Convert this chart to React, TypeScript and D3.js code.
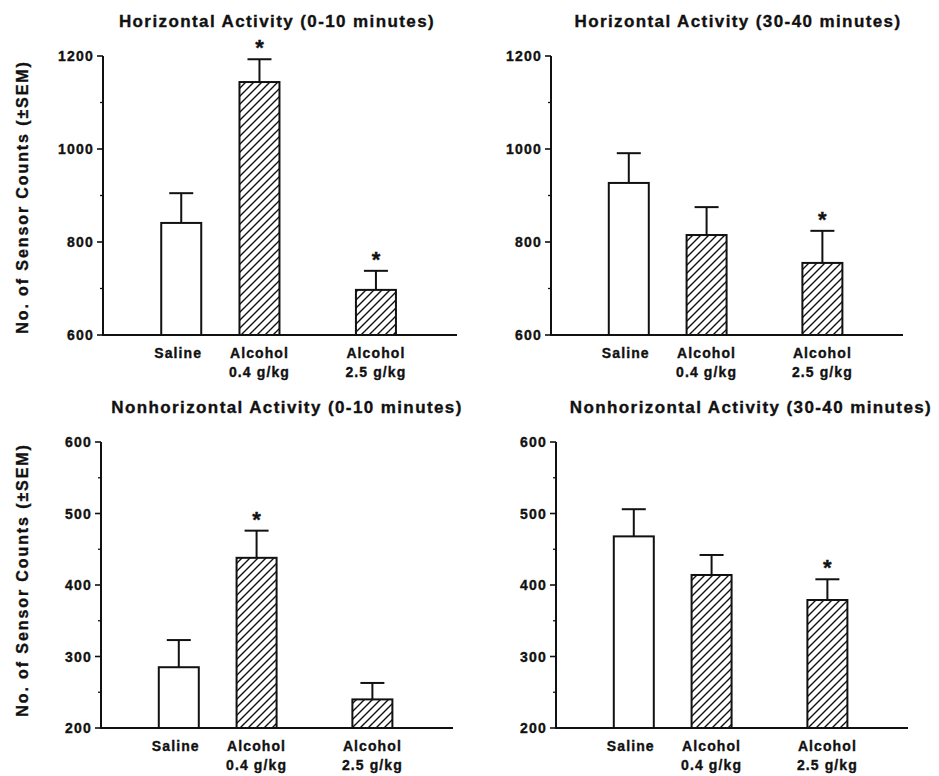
import React from "react";
import * as d3 from "d3";

// groups on the x axis
const groups = ["Saline", "Alcohol", "Alcohol"];
const doses = ["", "0.4 g/kg", "2.5 g/kg"];

// Horizontal activity, 0-10 minutes
const horizEarlyMeans = [841, 1144, 697];
const horizEarlySem = [64, 49, 41];
const horizEarlyStars = [false, true, true];

// Horizontal activity, 30-40 minutes
const horizLateMeans = [927, 815, 755];
const horizLateSem = [64, 60, 69];
const horizLateStars = [false, false, true];

// Nonhorizontal activity, 0-10 minutes
const nonhorizEarlyMeans = [285, 438, 240];
const nonhorizEarlySem = [38, 38, 23];
const nonhorizEarlyStars = [false, true, false];

// Nonhorizontal activity, 30-40 minutes
const nonhorizLateMeans = [468, 414, 379];
const nonhorizLateSem = [38, 28, 29];
const nonhorizLateStars = [false, false, true];

const horizTicks = [600, 800, 1000, 1200];
const horizMinorTicks = [700, 900, 1100];
const nonhorizTicks = [200, 300, 400, 500, 600];
const nonhorizMinorTicks = [250, 350, 450, 550];

const yLabel = "No. of Sensor Counts (\u00b1SEM)";

// where each bar sits along the x axis (fraction of axis length)
const slots = [0.221, 0.442, 0.771];
const barW = 40;
const capW = 24;
const font = "'Liberation Sans', Arial, Helvetica, sans-serif";
const ink = "#111";

type PanelProps = {
  title: string;
  means: number[];
  sem: number[];
  stars: boolean[];
  ticks: number[];
  minor: number[];
  left: number;
  right: number;
  top: number;
  bottom: number;
  titleX: number;
  titleY: number;
  yLabelY?: number;
};

const Panel = (p: PanelProps) => {
  const y = d3
    .scaleLinear()
    .domain(d3.extent(p.ticks) as [number, number])
    .range([p.bottom, p.top]);
  const x = d3.scaleLinear().domain([0, 1]).range([p.left, p.right]);

  return (
    <g fontFamily={font} fontWeight="bold" fill={ink} stroke={ink} strokeWidth={0.35}>
      <text x={p.titleX} y={p.titleY} textAnchor="middle" fontSize={17} letterSpacing={1.4}>
        {p.title}
      </text>

      {p.yLabelY !== undefined && (
        <text
          transform={`translate(28,${p.yLabelY}) rotate(-90)`}
          textAnchor="middle"
          fontSize={16}
          letterSpacing={1.9}
        >
          {yLabel}
        </text>
      )}

      {/* y axis */}
      <line x1={p.left} x2={p.left} y1={p.top} y2={p.bottom} strokeWidth={2} />
      {p.ticks.map((t) => (
        <g key={t}>
          <line x1={p.left - 6} x2={p.left} y1={y(t)} y2={y(t)} strokeWidth={1.6} />
          <text x={p.left - 9} y={y(t) + 5} textAnchor="end" fontSize={14} letterSpacing={1.2}>
            {t}
          </text>
        </g>
      ))}
      {p.minor.map((t) => (
        <line key={t} x1={p.left - 3} x2={p.left} y1={y(t)} y2={y(t)} strokeWidth={1.3} />
      ))}

      {/* bars */}
      {p.means.map((m, i) => {
        const cx = x(slots[i]);
        const top = y(m);
        const errTop = y(m + p.sem[i]);
        return (
          <g key={i}>
            <line x1={cx} x2={cx} y1={top} y2={errTop} strokeWidth={2} />
            <line x1={cx - capW / 2} x2={cx + capW / 2} y1={errTop} y2={errTop} strokeWidth={2} />
            <rect
              x={cx - barW / 2}
              y={top}
              width={barW}
              height={p.bottom - top}
              fill={i === 0 ? "#fff" : "url(#hatch)"}
              strokeWidth={2}
            />
            {p.stars[i] && (
              <text x={cx} y={errTop - 4} textAnchor="middle" fontSize={22}>
                *
              </text>
            )}
            <text x={cx - (i === 0 ? 3 : 0)} y={p.bottom + 23} textAnchor="middle" fontSize={14} letterSpacing={1.1}>
              {groups[i]}
            </text>
            {doses[i] && (
              <text x={cx} y={p.bottom + 42} textAnchor="middle" fontSize={14} letterSpacing={1.1}>
                {doses[i]}
              </text>
            )}
          </g>
        );
      })}

      {/* x axis */}
      <line x1={p.left - 1} x2={p.right} y1={p.bottom} y2={p.bottom} strokeWidth={2} />
    </g>
  );
};

export default function App() {
  return (
    <svg
      width={939}
      height={776}
      style={{ position: "absolute", left: 0, top: 0, background: "#fff" }}
    >
      <defs>
        <pattern id="hatch" patternUnits="userSpaceOnUse" width={8} height={8}>
          <rect width={8} height={8} fill="#fff" />
          <path d="M-2,2 L2,-2 M0,8 L8,0 M6,10 L10,6" stroke={ink} strokeWidth={1.4} />
        </pattern>
      </defs>
      <rect width={939} height={776} fill="#fff" />
      <Panel
        title="Horizontal Activity (0-10 minutes)"
        means={horizEarlyMeans}
        sem={horizEarlySem}
        stars={horizEarlyStars}
        ticks={horizTicks}
        minor={horizMinorTicks}
        left={103}
        right={457}
        top={56}
        bottom={335}
        titleX={277}
        titleY={27}
        yLabelY={197}
      />
      <Panel
        title="Horizontal Activity (30-40 minutes)"
        means={horizLateMeans}
        sem={horizLateSem}
        stars={horizLateStars}
        ticks={horizTicks}
        minor={horizMinorTicks}
        left={551}
        right={903}
        top={56}
        bottom={335}
        titleX={738}
        titleY={27}
      />
      <Panel
        title="Nonhorizontal Activity (0-10 minutes)"
        means={nonhorizEarlyMeans}
        sem={nonhorizEarlySem}
        stars={nonhorizEarlyStars}
        ticks={nonhorizTicks}
        minor={nonhorizMinorTicks}
        left={101}
        right={453}
        top={442}
        bottom={728}
        titleX={287}
        titleY={413}
        yLabelY={580}
      />
      <Panel
        title="Nonhorizontal Activity (30-40 minutes)"
        means={nonhorizLateMeans}
        sem={nonhorizLateSem}
        stars={nonhorizLateStars}
        ticks={nonhorizTicks}
        minor={nonhorizMinorTicks}
        left={556}
        right={908}
        top={442}
        bottom={728}
        titleX={751}
        titleY={413}
      />
    </svg>
  );
}
